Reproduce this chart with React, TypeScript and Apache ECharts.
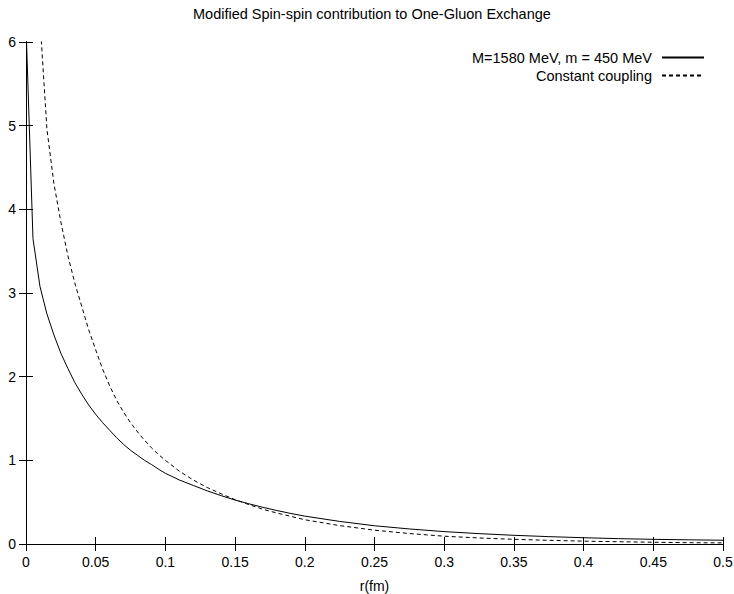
import React, { useEffect, useRef } from "react";
import * as echarts from "echarts";

const titleText = "Modified Spin-spin contribution to One-Gluon Exchange";
const xAxisName = "r(fm)";
const seriesNames = ["M=1580 MeV, m = 450 MeV", "Constant coupling"];

const xMin = 0;
const xMax = 0.5;
const xInterval = 0.05;
const yMin = 0;
const yMax = 6;
const yInterval = 1;

// Solid curve: M=1580 MeV, m = 450 MeV
const rSolid = [
  0, 0.005, 0.01, 0.015, 0.02, 0.025, 0.03, 0.035, 0.04, 0.045, 0.05, 0.055,
  0.06, 0.065, 0.07, 0.075, 0.08, 0.085, 0.09, 0.095, 0.1, 0.11, 0.12, 0.13,
  0.14, 0.15, 0.16, 0.17, 0.18, 0.19, 0.2, 0.225, 0.25, 0.275, 0.3, 0.325,
  0.35, 0.375, 0.4, 0.425, 0.45, 0.475, 0.5,
];
const vSolid = [
  6.2, 3.65, 3.08, 2.75, 2.5, 2.28, 2.1, 1.93, 1.79, 1.66, 1.55, 1.45,
  1.36, 1.27, 1.19, 1.12, 1.06, 1.0, 0.95, 0.895, 0.845, 0.765, 0.7, 0.635,
  0.578, 0.525, 0.48, 0.438, 0.4, 0.365, 0.333, 0.27, 0.218, 0.18, 0.148, 0.124,
  0.104, 0.088, 0.075, 0.064, 0.056, 0.05, 0.045,
];

// Dashed curve: constant coupling
const rDashed = [
  0.01, 0.015, 0.02, 0.025, 0.03, 0.035, 0.04, 0.045, 0.05, 0.055, 0.06,
  0.065, 0.07, 0.075, 0.08, 0.085, 0.09, 0.095, 0.1, 0.11, 0.12, 0.13, 0.14,
  0.15, 0.16, 0.17, 0.18, 0.19, 0.2, 0.225, 0.25, 0.275, 0.3, 0.325, 0.35,
  0.375, 0.4, 0.425, 0.45, 0.475, 0.5,
];
const vDashed = [
  6.27, 4.96, 4.31, 3.85, 3.45, 3.12, 2.84, 2.56, 2.32, 2.09, 1.89,
  1.72, 1.575, 1.45, 1.34, 1.24, 1.15, 1.07, 1.0, 0.87, 0.765, 0.675, 0.6,
  0.53, 0.47, 0.415, 0.37, 0.33, 0.29, 0.22, 0.165, 0.125, 0.093, 0.072, 0.056,
  0.044, 0.034, 0.027, 0.021, 0.016, 0.013,
];

const FONT = "'Liberation Sans', Arial, Helvetica, sans-serif";

export default function App() {
  const ref = useRef<HTMLDivElement>(null);

  useEffect(() => {
    document.body.style.margin = "0";
    if (!ref.current) return;
    const chart = echarts.init(ref.current, null, { renderer: "svg" });

    const solidData = rSolid.map((r, i) => [r, vSolid[i]]);
    const dashedData = rDashed.map((r, i) => [r, vDashed[i]]);

    const axisCommon = {
      axisLine: { show: true, lineStyle: { color: "#000", width: 1 } },
      axisTick: { show: true, inside: true, length: 7, lineStyle: { color: "#000", width: 1 } },
      splitLine: { show: false },
    };

    chart.setOption({
      animation: false,
      backgroundColor: "#fff",
      textStyle: { fontFamily: FONT },
      title: {
        text: titleText,
        left: 193,
        top: 6,
        padding: 0,
        textStyle: { fontFamily: FONT, fontSize: 14.5, fontWeight: "normal", color: "#000" },
      },
      legend: {
        orient: "vertical",
        right: 29,
        top: 50,
        align: "right",
        itemWidth: 42,
        itemHeight: 14,
        itemGap: 3,
        padding: 0,
        itemStyle: { opacity: 0 },
        textStyle: { fontFamily: FONT, fontSize: 14.5, color: "#000", padding: [0, 5, 0, 0] },
        data: seriesNames,
      },
      grid: {
        left: 26,
        right: 11,
        top: 42,
        bottom: 50,
        containLabel: false,
        outerBoundsMode: "none",
      },
      xAxis: [
        {
          type: "value",
          min: xMin,
          max: xMax,
          interval: xInterval,
          position: "bottom",
          name: xAxisName,
          nameLocation: "middle",
          nameGap: 35,
          nameTextStyle: { fontFamily: FONT, fontSize: 14, color: "#000" },
          axisLabel: { show: true, margin: 11, fontFamily: FONT, fontSize: 14, color: "#000" },
          ...axisCommon,
        },
        {
          type: "value",
          min: xMin,
          max: xMax,
          interval: xInterval,
          position: "top",
          axisLabel: { show: false },
          ...axisCommon,
        },
      ],
      yAxis: [
        {
          type: "value",
          min: yMin,
          max: yMax,
          interval: yInterval,
          position: "left",
          axisLabel: { show: true, margin: 10, fontFamily: FONT, fontSize: 14, color: "#000" },
          ...axisCommon,
        },
        {
          type: "value",
          min: yMin,
          max: yMax,
          interval: yInterval,
          position: "right",
          axisLabel: { show: false },
          ...axisCommon,
        },
      ],
      series: [
        {
          name: seriesNames[0],
          type: "line",
          data: solidData,
          xAxisIndex: 0,
          yAxisIndex: 0,
          showSymbol: false,
          symbol: "none",
          smooth: false,
          clip: true,
          lineStyle: { color: "#000", width: 1, type: "solid" },
          itemStyle: { color: "#000" },
        },
        {
          name: seriesNames[1],
          type: "line",
          data: dashedData,
          xAxisIndex: 0,
          yAxisIndex: 0,
          showSymbol: false,
          symbol: "none",
          smooth: false,
          clip: true,
          lineStyle: { color: "#000", width: 1, type: [4, 3] },
          itemStyle: { color: "#000" },
        },
      ],
    });

    return () => {
      chart.dispose();
    };
  }, []);

  return <div ref={ref} style={{ width: 734, height: 594 }} />;
}
